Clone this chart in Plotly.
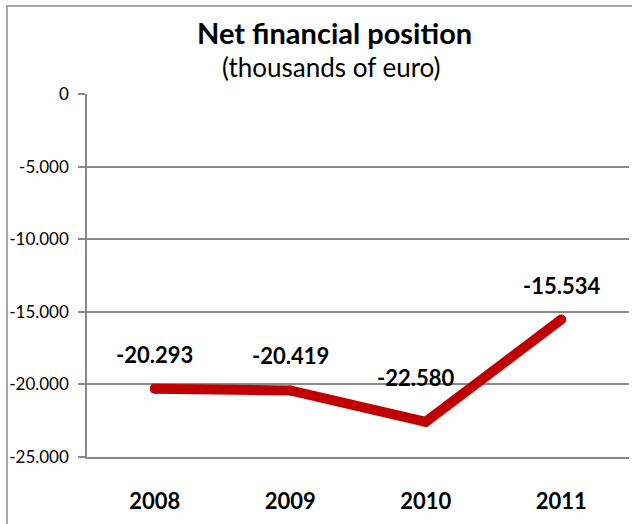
import plotly.graph_objects as go

# Net financial position, thousands of euro
years = ["2008", "2009", "2010", "2011"]
net_position = [-20293, -20419, -22580, -15534]
y_ticks = [0, -5000, -10000, -15000, -20000, -25000]


def fmt_thousands(v):
    return f"{v:,}".replace(",", ".")


y_ticktext = [fmt_thousands(v) for v in y_ticks]
point_labels = [fmt_thousands(v) for v in net_position]

# per-label nudges (pixels) so the 2010 label clears the line
label_dx = [0, 0, -10, 0]
label_dy = [0, 0, 10, 0]

W, H = 632, 524
M_L, M_R, M_T, M_B = 87, 3, 94, 67
plot_w = W - M_L - M_R
plot_h = H - M_T - M_B


def px_to_paper_x(px):
    return (px - M_L) / plot_w


def px_to_paper_y(py):
    return (H - M_B - py) / plot_h


GRID = "#898989"
RED = "#C00000"
FONT = "Lato"

fig = go.Figure()

fig.add_trace(go.Scatter(
    x=years,
    y=net_position,
    mode="lines+markers",
    line=dict(color=RED, width=10),
    marker=dict(color=RED, size=10),
    hoverinfo="skip",
    showlegend=False,
))

annotations = []
for i, (val, lab) in enumerate(zip(net_position, point_labels)):
    annotations.append(dict(
        x=i, y=val, xref="x", yref="y",
        text=f"<b>{lab}</b>",
        showarrow=False,
        xanchor="center",
        yanchor="bottom",
        xshift=label_dx[i],
        yshift=19 + label_dy[i],
        font=dict(family=FONT, size=22, color="black"),
    ))

annotations.append(dict(
    x=px_to_paper_x(334), y=px_to_paper_y(33), xref="paper", yref="paper",
    text="<b>Net financial position</b>", showarrow=False,
    xanchor="center", yanchor="middle",
    font=dict(family=FONT, size=29, color="black"),
))
annotations.append(dict(
    x=px_to_paper_x(331), y=px_to_paper_y(67), xref="paper", yref="paper",
    text="(thousands of euro)", showarrow=False,
    xanchor="center", yanchor="middle",
    font=dict(family=FONT, size=26, color="black"),
))

fig.update_layout(
    width=W, height=H,
    margin=dict(l=M_L, r=M_R, t=M_T, b=M_B, autoexpand=False),
    paper_bgcolor="white",
    plot_bgcolor="white",
    font=dict(family=FONT, color="black"),
    annotations=annotations,
    xaxis=dict(
        type="category",
        range=[-0.5, 3.5],
        showgrid=False,
        zeroline=False,
        showline=True,
        linecolor=GRID,
        linewidth=1.5,
        ticks="",
        ticklabelstandoff=24,
        tickfont=dict(family=FONT, size=22, color="black", weight="bold"),
    ),
    xaxis2=dict(
        overlaying="x",
        side="top",
        anchor="y",
        range=[-0.5, 3.5],
        tickvals=[-0.5, 0.5, 1.5, 2.5, 3.5],
        showticklabels=False,
        ticks="inside",
        ticklen=7,
        tickcolor=GRID,
        tickwidth=1.5,
        showline=True,
        linecolor=GRID,
        linewidth=1.5,
        showgrid=False,
        zeroline=False,
    ),
    yaxis=dict(
        range=[-25000, 0],
        tickvals=y_ticks,
        ticktext=y_ticktext,
        showgrid=True,
        gridcolor=GRID,
        gridwidth=1.5,
        zeroline=False,
        showline=True,
        linecolor=GRID,
        linewidth=1.5,
        ticks="outside",
        ticklen=7,
        tickcolor=GRID,
        tickwidth=1.5,
        ticklabelstandoff=6,
        tickfont=dict(family=FONT, size=17, color="black"),
    ),
    shapes=[dict(
        type="rect", xref="paper", yref="paper",
        x0=px_to_paper_x(7), x1=px_to_paper_x(700),
        y0=px_to_paper_y(600), y1=px_to_paper_y(6),
        line=dict(color=GRID, width=1.5),
        fillcolor="rgba(0,0,0,0)",
        layer="below",
    )],
)

fig.write_html("out.html")
